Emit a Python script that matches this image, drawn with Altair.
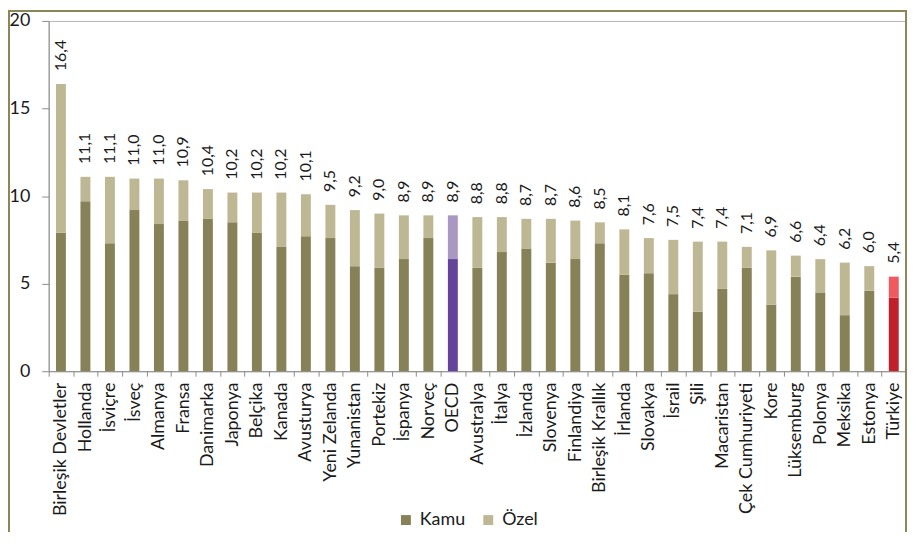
import altair as alt
import pandas as pd

countries = ["Birleşik Devletler", "Hollanda", "İsviçre", "İsveç", "Almanya", "Fransa",
             "Danimarka", "Japonya", "Belçika", "Kanada", "Avusturya", "Yeni Zelanda",
             "Yunanistan", "Portekiz", "İspanya", "Norveç", "OECD", "Avustralya", "İtalya",
             "İzlanda", "Slovenya", "Finlandiya", "Birleşik Krallık", "İrlanda", "Slovakya",
             "İsrail", "Şili", "Macaristan", "Çek Cumhuriyeti", "Kore", "Lüksemburg",
             "Polonya", "Meksika", "Estonya", "Türkiye"]
totals = [16.4, 11.1, 11.1, 11.0, 11.0, 10.9, 10.4, 10.2, 10.2, 10.2, 10.1, 9.5, 9.2, 9.0,
          8.9, 8.9, 8.9, 8.8, 8.8, 8.7, 8.7, 8.6, 8.5, 8.1, 7.6, 7.5, 7.4, 7.4, 7.1, 6.9,
          6.6, 6.4, 6.2, 6.0, 5.4]
kamu = [7.9, 9.7, 7.3, 9.2, 8.4, 8.6, 8.7, 8.5, 7.9, 7.1, 7.7, 7.6, 6.0, 5.9, 6.4, 7.6,
        6.4, 5.9, 6.8, 7.0, 6.2, 6.4, 7.3, 5.5, 5.6, 4.4, 3.4, 4.7, 5.9, 3.8, 5.4, 4.5,
        3.2, 4.6, 4.2]
series = ["Kamu", "Özel"]
y_ticks = [0, 5, 10, 15, 20]

color_keys = ["Kamu", "Özel", "OECD-Kamu", "OECD-Özel", "TR-Kamu", "TR-Özel"]
color_vals = ["#878157", "#BDB793", "#64449A", "#A898C2", "#C0202A", "#EE5A5E"]

rows = []
for c, t, k in zip(countries, totals, kamu):
    prefix = "OECD-" if c == "OECD" else ("TR-" if c == "Türkiye" else "")
    rows.append({"ulke": c, "tur": series[0], "deger": k, "renk": prefix + series[0], "sira": 0})
    rows.append({"ulke": c, "tur": series[1], "deger": round(t - k, 2), "renk": prefix + series[1], "sira": 1})
df = pd.DataFrame(rows)
lab = pd.DataFrame({"ulke": countries, "toplam": totals,
                    "etiket": [f"{t:.1f}".replace(".", ",") for t in totals]})

W, H = 864, 353
FONT = "Lato"
TXT = "#1a1a1a"
AX = "#8c8c8c"
FRAME = "#8B8658"

xenc = alt.X("ulke:N", sort=countries,
             scale=alt.Scale(paddingInner=0, paddingOuter=0),
             axis=alt.Axis(title=None, labelAngle=-90, labelFontSize=18, labelFont=FONT,
                           labelColor=TXT, labelPadding=6, tickSize=5, tickColor=AX,
                           domainColor=AX, tickBand="extent", labelAlign="right",
                           labelBaseline="middle"))

bars = alt.Chart(df).mark_bar(size=10).encode(
    x=xenc,
    y=alt.Y("deger:Q", stack="zero", scale=alt.Scale(domain=[0, 20], nice=False),
            axis=alt.Axis(values=y_ticks, title=None, grid=False, labelFontSize=18,
                          labelFont=FONT, labelColor=TXT, tickSize=7, tickColor=AX,
                          domainColor=AX, labelPadding=12)),
    color=alt.Color("renk:N", scale=alt.Scale(domain=color_keys, range=color_vals),
                    legend=alt.Legend(values=series, orient="none", legendX=351, legendY=494,
                                      direction="horizontal", title=None, symbolType="square",
                                      symbolSize=100, labelFontSize=18, labelFont=FONT,
                                      labelColor=TXT, symbolStrokeWidth=0, labelOffset=5,
                                      columnPadding=14)),
    order=alt.Order("sira:Q"),
)

labels = alt.Chart(lab).mark_text(angle=270, align="left", baseline="middle", dx=13,
                                   fontSize=16, font=FONT, color=TXT).encode(
    x=alt.X("ulke:N", sort=countries),
    y=alt.Y("toplam:Q"),
    text="etiket:N",
)

one = pd.DataFrame({"a": [0]})
frame_left = alt.Chart(one).mark_rule(color=FRAME, strokeWidth=2).encode(
    x=alt.value(-40), y=alt.value(-10), y2=alt.value(700))
frame_top = alt.Chart(one).mark_rule(color=FRAME, strokeWidth=2).encode(
    x=alt.value(-41), x2=alt.value(W + 1), y=alt.value(-10))
frame_right = alt.Chart(one).mark_rule(color=FRAME, strokeWidth=2).encode(
    x=alt.value(W), y=alt.value(-10), y2=alt.value(700))

chart = alt.layer(bars, labels, frame_left, frame_top, frame_right).properties(
    width=W, height=H,
    padding={"left": 41, "top": 11, "right": 2, "bottom": 160},
    autosize=alt.AutoSizeParams(type="none"),
    background="white",
).configure_view(stroke="#b5b5b5", strokeWidth=1)

chart.save("out.html", embed_options={"renderer": "svg", "actions": False})
